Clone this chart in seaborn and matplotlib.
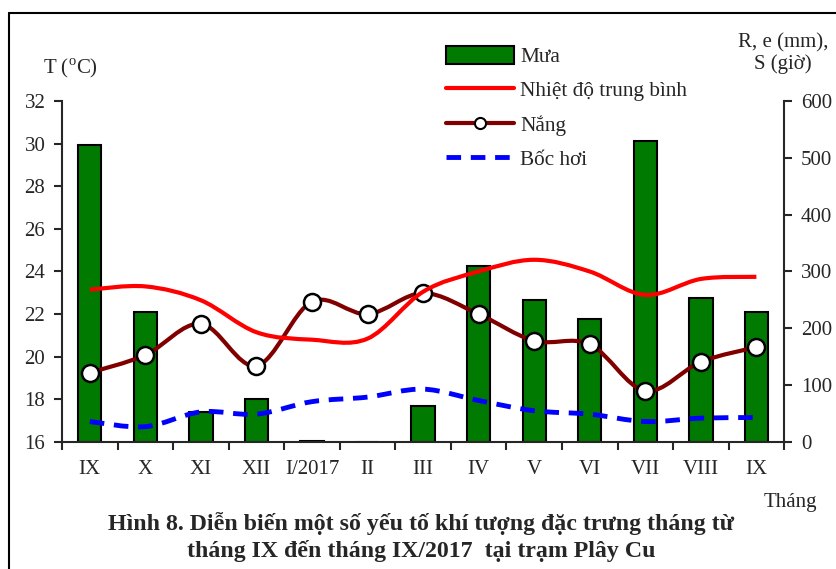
import numpy as np
import pandas as pd
import matplotlib
matplotlib.use("Agg")
import matplotlib.pyplot as plt
import seaborn as sns
from matplotlib.path import Path
from matplotlib.patches import PathPatch, Patch
from matplotlib.lines import Line2D

# Data
months = ["IX", "X", "XI", "XII", "I/2017", "II", "III",
          "IV", "V", "VI", "VII", "VIII", "IX"]
rain = [523, 228, 53, 76, 2, 0, 64, 310, 250, 216, 530, 254, 229]          # mm
temp = [23.15, 23.3, 22.65, 21.15, 20.8, 20.85, 23.05,
        24.0, 24.55, 24.0, 22.9, 23.65, 23.75]                              # degC
sunshine = [122, 153, 208, 134, 247, 225, 262, 225, 178, 172, 90, 141, 167]  # hours
evap = [36, 27, 53, 49, 71, 79, 93, 73, 55, 49, 36, 42, 43]                  # mm

df = pd.DataFrame({"month": months, "rain": rain, "temp": temp,
                   "sunshine": sunshine, "evap": evap})
df["pos"] = np.arange(len(df))

# Style
sns.set_style("ticks")
plt.rcParams["font.family"] = ["Liberation Serif", "DejaVu Serif"]
plt.rcParams["mathtext.fontset"] = "custom"
plt.rcParams["mathtext.rm"] = "Liberation Serif"


def smooth_path(x, y):
    # Excel-style smoothed line: bezier segments through every point
    pts = np.column_stack([x, y]).astype(float)
    ext = np.vstack([pts[0], pts, pts[-1]])
    verts = [pts[0]]
    codes = [Path.MOVETO]
    for i in range(1, len(ext) - 2):
        p0, p1, p2, p3 = ext[i - 1], ext[i], ext[i + 1], ext[i + 2]
        verts += [p1 + (p2 - p0) / 6, p2 - (p3 - p1) / 6, p2]
        codes += [Path.CURVE4] * 3
    return Path(verts, codes)


fig, ax = plt.subplots(figsize=(8.36, 5.69), dpi=100)
fig.subplots_adjust(left=0.0742, right=0.938, bottom=0.2232, top=0.8225)
ax2 = ax.twinx()

# Bars on the right axis
sns.barplot(data=df, x="pos", y="rain", ax=ax2, color="#007a00",
            width=0.42, edgecolor="black", linewidth=1.5, saturation=1,
            native_scale=True)

# Sunshine and evaporation on right axis
ax2.add_patch(PathPatch(smooth_path(df["pos"], df["evap"]), fill=False,
                        edgecolor="#0000ff", lw=3.5, linestyle=(0, (3, 2)),
                        capstyle="butt", zorder=3))
ax2.add_patch(PathPatch(smooth_path(df["pos"], df["sunshine"]), fill=False,
                        edgecolor="#800000", lw=3, zorder=3))
sns.scatterplot(data=df, x="pos", y="sunshine", ax=ax2, s=150,
                color="white", edgecolor="black", linewidth=1.8, zorder=4)

# Temperature on left axis
ax.add_patch(PathPatch(smooth_path(df["pos"], df["temp"]), fill=False,
                       edgecolor="#ff0000", lw=3, zorder=3))
ax.set_zorder(ax2.get_zorder() + 1)
ax.patch.set_visible(False)

# Axes limits and ticks
ax.set_xlim(-0.5, len(months) - 0.5)
ax2.set_xlim(-0.5, len(months) - 0.5)
ax.set_ylim(16, 32)
ax.set_yticks(np.arange(16, 33, 2))
ax2.set_ylim(0, 600)
ax2.set_yticks(np.arange(0, 601, 100))

ax.set_xticks(np.arange(-0.5, len(months), 1.0))
ax.set_xticklabels([])
ax.set_xticks(np.arange(len(months)), minor=True)
ax.set_xticklabels(months, minor=True)
ax.tick_params(axis="x", which="major", length=6, width=1.5, direction="out")
ax.tick_params(axis="x", which="minor", length=0, pad=13, labelsize=15)
ax.tick_params(axis="y", length=6, width=1.5, labelsize=15, pad=6)
ax2.tick_params(axis="y", length=6, width=1.5, labelsize=15, pad=6)
ax2.tick_params(axis="x", which="both", length=0, labelbottom=False)

for a in (ax, ax2):
    a.set_xlabel("")
    a.set_ylabel("")
    for s in a.spines.values():
        s.set_linewidth(1.5)
    a.spines["top"].set_visible(False)
ax.spines["right"].set_visible(False)
ax2.spines["left"].set_visible(False)
ax2.spines["bottom"].set_visible(False)

# Axis titles
fig.text(70 / 836, 1 - 68 / 569, r"T ($^{\rm o}$C)", ha="center", va="center", fontsize=15)
fig.text(783 / 836, 1 - 43 / 569, "R, e (mm),", ha="center", va="center", fontsize=15)
fig.text(783 / 836, 1 - 64 / 569, "S (giờ)", ha="center", va="center", fontsize=15)
fig.text(790 / 836, 1 - 502 / 569, "Tháng", ha="center", va="center", fontsize=15)

# Legend
handles = [
    Patch(facecolor="#007a00", edgecolor="black", linewidth=1.5),
    Line2D([], [], color="#ff0000", lw=3),
    Line2D([], [], color="#800000", lw=3, marker="o", markersize=8,
           markerfacecolor="white", markeredgecolor="black", markeredgewidth=1.5),
    Line2D([], [], color="#0000ff", lw=3.5, linestyle=(0, (3, 2))),
]
labels = ["Mưa", "Nhiệt độ trung bình", "Nắng", "Bốc hơi"]
fig.legend(handles, labels, loc="upper left", bbox_to_anchor=(446 / 836, 1 - 46 / 569),
           frameon=False, fontsize=15.3, handlelength=3.2, handleheight=0.9,
           handletextpad=0.3, labelspacing=0.62, borderpad=0, borderaxespad=0)

# Caption
fig.text(421 / 836, 1 - 524 / 569,
         "Hình 8. Diễn biến một số yếu tố khí tượng đặc trưng tháng từ",
         ha="center", va="center", fontsize=17.2, fontweight="bold")
fig.text(421 / 836, 1 - 551 / 569,
         "tháng IX đến tháng IX/2017  tại trạm Plây Cu",
         ha="center", va="center", fontsize=17.2, fontweight="bold")

# Outer frame (top and left edges visible)
fig.add_artist(Line2D([9 / 836, 1], [1 - 13 / 569, 1 - 13 / 569],
                      color="black", lw=1.5, transform=fig.transFigure))
fig.add_artist(Line2D([9 / 836, 9 / 836], [0, 1 - 13 / 569],
                      color="black", lw=1.5, transform=fig.transFigure))

plt.savefig("out.png", dpi=100)
plt.close()
